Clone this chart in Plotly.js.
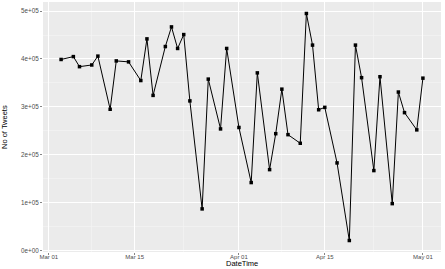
<!DOCTYPE html>
<html>
<head>
<meta charset="utf-8">
<script src="https://cdn.plot.ly/plotly-3.0.1.min.js"></script>
<style>html,body{margin:0;padding:0;background:#fff;}#chart{width:445px;height:269px;}</style>
</head>
<body>
<div id="chart"></div>
<script>
const dates = [
  "2020-03-03","2020-03-05","2020-03-06","2020-03-08","2020-03-09","2020-03-11","2020-03-12","2020-03-14",
  "2020-03-16","2020-03-17","2020-03-18","2020-03-20","2020-03-21","2020-03-22","2020-03-23","2020-03-24",
  "2020-03-26","2020-03-27","2020-03-29","2020-03-30","2020-04-01","2020-04-03","2020-04-04","2020-04-06",
  "2020-04-07","2020-04-08","2020-04-09","2020-04-11","2020-04-12","2020-04-13","2020-04-14","2020-04-15",
  "2020-04-17","2020-04-19","2020-04-20","2020-04-21","2020-04-23","2020-04-24","2020-04-26","2020-04-27",
  "2020-04-28","2020-04-30","2020-05-01"
];
const tweets = [
  399000,405000,384000,387500,406000,295000,396000,394000,
  355000,442000,324000,426000,467000,422000,451000,312500,
  87000,358000,254000,422000,257000,142000,371000,169000,
  244000,337000,242000,224000,495000,429000,294000,299000,
  183000,21000,429000,361000,167000,363000,98000,331000,
  288000,252000,360000
];
const xTickVals = ["2020-03-01","2020-03-15","2020-04-01","2020-04-15","2020-05-01"];
const xTickText = ["Mar 01","Mar 15","Apr 01","Apr 15","May 01"];
const xMinorVals = ["2020-03-08","2020-03-23","2020-04-08","2020-04-23"];
const yTickVals = [0,100000,200000,300000,400000,500000];
const yTickText = ["0e+00","1e+05","2e+05","3e+05","4e+05","5e+05"];
const xTitle = "DateTime";
const yTitle = "No of Tweets";

const trace = {
  x: dates, y: tweets, type: "scatter", mode: "lines+markers",
  line: {color: "#000000", width: 1},
  marker: {color: "#000000", size: 3.5, symbol: "square"},
  hoverinfo: "skip"
};
const layout = {
  width: 445, height: 269,
  margin: {l: 43, r: 4, t: 2, b: 16.5},
  paper_bgcolor: "#FFFFFF", plot_bgcolor: "#EBEBEB",
  showlegend: false,
  font: {family: "Liberation Sans, Arial, sans-serif", color: "#4D4D4D", size: 6},
  xaxis: {
    type: "date",
    range: ["2020-02-29 01:12", "2020-05-03 22:48"],
    tickmode: "array", tickvals: xTickVals, ticktext: xTickText,
    showgrid: true, gridcolor: "#FFFFFF", gridwidth: 1,
    minor: {tickmode: "array", tickvals: xMinorVals, showgrid: true, gridcolor: "#F5F5F5", gridwidth: 0.6},
    zeroline: false, showline: false,
    ticks: "outside", ticklen: 1.5, tickcolor: "#333333", tickwidth: 0.6,
    ticklabelstandoff: -3,
    tickfont: {size: 6, color: "#4D4D4D"}
  },
  yaxis: {
    range: [-3000, 519000],
    tickmode: "array", tickvals: yTickVals, ticktext: yTickText,
    showgrid: true, gridcolor: "#FFFFFF", gridwidth: 1,
    minor: {dtick: 50000, tick0: 50000, showgrid: true, gridcolor: "#F5F5F5", gridwidth: 0.6},
    zeroline: false, showline: false,
    ticks: "outside", ticklen: 2, tickcolor: "#333333", tickwidth: 0.6,
    tickfont: {size: 6.3, color: "#4D4D4D"}
  },
  annotations: [
    {text: xTitle, xref: "paper", yref: "paper", x: 0.5, y: -0.066, yanchor: "bottom", xanchor: "center",
     showarrow: false, borderpad: 0, font: {size: 7.5, color: "#000000"}},
    {text: yTitle, xref: "paper", yref: "paper", x: -0.098, y: 0.5, xanchor: "center", yanchor: "middle",
     textangle: -90, showarrow: false, font: {size: 7.5, color: "#000000"}}
  ]
};
Plotly.newPlot("chart", [trace], layout, {displayModeBar: false, staticPlot: true});
</script>
</body>
</html>
